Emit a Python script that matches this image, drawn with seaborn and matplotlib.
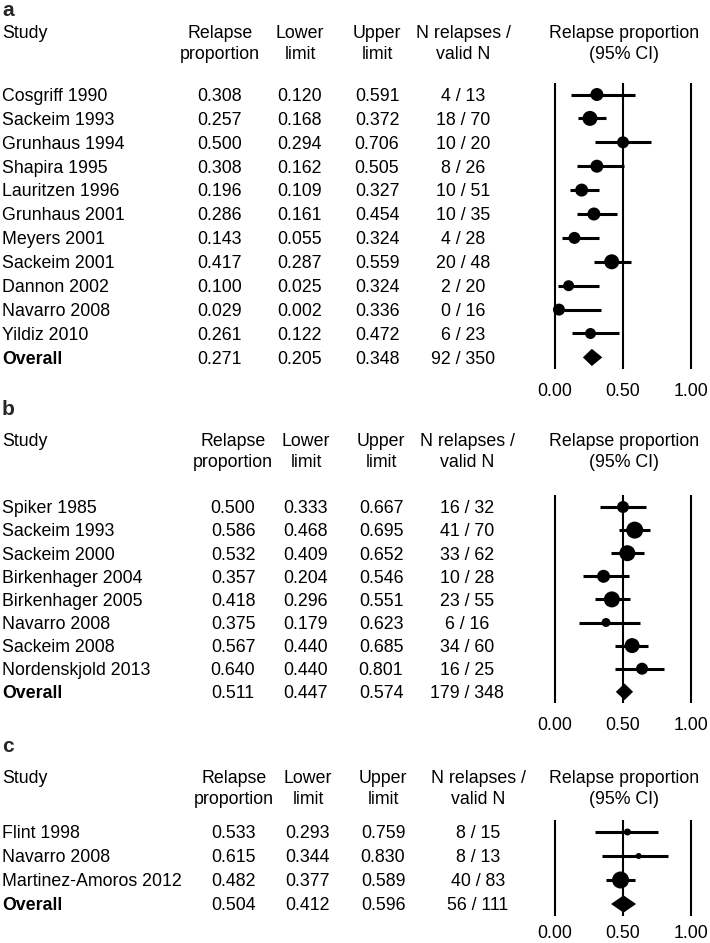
import matplotlib
matplotlib.use("Agg")
import matplotlib.pyplot as plt
import numpy as np
import pandas as pd
import seaborn as sns

# ---- data: panel a ----
a_study = ["Cosgriff 1990", "Sackeim 1993", "Grunhaus 1994", "Shapira 1995", "Lauritzen 1996",
           "Grunhaus 2001", "Meyers 2001", "Sackeim 2001", "Dannon 2002", "Navarro 2008", "Yildiz 2010"]
a_prop = [0.308, 0.257, 0.500, 0.308, 0.196, 0.286, 0.143, 0.417, 0.100, 0.029, 0.261]
a_low = [0.120, 0.168, 0.294, 0.162, 0.109, 0.161, 0.055, 0.287, 0.025, 0.002, 0.122]
a_up = [0.591, 0.372, 0.706, 0.505, 0.327, 0.454, 0.324, 0.559, 0.324, 0.336, 0.472]
a_events = [4, 18, 10, 8, 10, 10, 4, 20, 2, 0, 6]
a_total = [13, 70, 20, 26, 51, 35, 28, 48, 20, 16, 23]
a_overall = [0.271, 0.205, 0.348, 92, 350]
a_dot = [13, 15, 12, 13, 13, 13, 12, 15, 11, 12, 11]   # marker diameter (px), study weight

# ---- data: panel b ----
b_study = ["Spiker 1985", "Sackeim 1993", "Sackeim 2000", "Birkenhager 2004", "Birkenhager 2005",
           "Navarro 2008", "Sackeim 2008", "Nordenskjold 2013"]
b_prop = [0.500, 0.586, 0.532, 0.357, 0.418, 0.375, 0.567, 0.640]
b_low = [0.333, 0.468, 0.409, 0.204, 0.296, 0.179, 0.440, 0.440]
b_up = [0.667, 0.695, 0.652, 0.546, 0.551, 0.623, 0.685, 0.801]
b_events = [16, 41, 33, 10, 23, 6, 34, 16]
b_total = [32, 70, 62, 28, 55, 16, 60, 25]
b_overall = [0.511, 0.447, 0.574, 179, 348]
b_dot = [12, 17, 16, 13, 16, 9, 15, 12]

# ---- data: panel c ----
c_study = ["Flint 1998", "Navarro 2008", "Martinez-Amoros 2012"]
c_prop = [0.533, 0.615, 0.482]
c_low = [0.293, 0.344, 0.377]
c_up = [0.759, 0.830, 0.589]
c_events = [8, 8, 40]
c_total = [15, 13, 83]
c_overall = [0.504, 0.412, 0.596, 56, 111]
c_dot = [7, 6, 17]

tick_vals = [0.0, 0.5, 1.0]
tick_text = ["0.00", "0.50", "1.00"]

W, H = 710, 943
FS = 12.8
sns.set_theme(style="white")
plt.rcParams["font.family"] = ["Liberation Sans", "DejaVu Sans"]

fig = plt.figure(figsize=(W / 100, H / 100), dpi=100)
bg = fig.add_axes([0, 0, 1, 1])
bg.set_xlim(0, W)
bg.set_ylim(H, 0)
bg.axis("off")

X0, X1 = 555, 691          # pixel of 0.00 and 1.00
AX_L, AX_R = 540, 706


def txt(x, y, s, ha="center", bold=False, size=FS):
    # y is the visual centre of the digits / capitals
    bg.text(x, y + 0.36 * size * 100 / 72, s, ha=ha, va="baseline", fontsize=size,
            fontweight="bold" if bold else "normal", color="black")


def panel(letter, letter_y, head_y, row0, sp, cols, study, prop, low, up, ev, tot, overall, dot,
          pad=9.8):
    x_p, x_l, x_u, x_n = cols
    # header
    bg.text(2, letter_y, letter, ha="left", va="baseline", fontsize=15, fontweight="bold")
    txt(2, head_y, "Study", ha="left")
    txt(x_p, head_y, "Relapse"); txt(x_p, head_y + 21, "proportion")
    txt(x_l, head_y, "Lower"); txt(x_l, head_y + 21, "limit")
    txt(x_u, head_y, "Upper"); txt(x_u, head_y + 21, "limit")
    txt(x_n, head_y, "N relapses /"); txt(x_n, head_y + 21, "valid N")
    txt(624, head_y, "Relapse proportion"); txt(624, head_y + 21, "(95% CI)")

    df = pd.DataFrame({"study": study, "prop": prop, "low": low, "up": up,
                       "ev": ev, "tot": tot, "dot": dot})
    df["row"] = np.arange(len(df))
    n = len(df) + 1
    for i, r in df.iterrows():
        y = row0 + i * sp
        txt(2, y, r["study"], ha="left")
        txt(x_p, y, f"{r['prop']:.3f}")
        txt(x_l, y, f"{r['low']:.3f}")
        txt(x_u, y, f"{r['up']:.3f}")
        txt(x_n, y, f"{r['ev']} / {r['tot']}")
    yo = row0 + (n - 1) * sp
    txt(2, yo, "Overall", ha="left", bold=True)
    txt(x_p, yo, f"{overall[0]:.3f}")
    txt(x_l, yo, f"{overall[1]:.3f}")
    txt(x_u, yo, f"{overall[2]:.3f}")
    txt(x_n, yo, f"{overall[3]} / {overall[4]}")

    # forest axes
    top = row0 - sp / 2
    bot = row0 + (n - 0.5) * sp
    ax = fig.add_axes([AX_L / W, 1 - bot / H, (AX_R - AX_L) / W, (bot - top) / H])
    ax.set_xlim((AX_L - X0) / (X1 - X0), (AX_R - X0) / (X1 - X0))
    ax.set_ylim(n - 0.5, -0.5)
    ax.patch.set_alpha(0)
    for v in tick_vals:
        ax.axvline(v, color="black", lw=1.5, zorder=1)
    ax.hlines(df["row"], df["low"], df["up"], color="black", lw=2.2, zorder=2)
    sns.scatterplot(data=df, x="prop", y="row", ax=ax, color="black", marker="o",
                    s=(df["dot"] * 0.72) ** 2, linewidth=0, legend=False, zorder=3)
    est, lo, hi = overall[0], overall[1], overall[2]
    r = n - 1
    ax.fill([lo, est, hi, est], [r, r - 0.36, r, r + 0.36], color="black", lw=0, zorder=3)
    ax.set_xticks(tick_vals)
    ax.set_xticklabels(tick_text)
    ax.set_yticks([])
    ax.tick_params(axis="x", length=0, pad=pad, labelsize=FS, colors="black")
    ax.set_xlabel(""); ax.set_ylabel("")
    for s in ax.spines.values():
        s.set_visible(False)


panel("a", 16, 32, 94.5, 23.9, (220, 300, 377, 463), a_study, a_prop, a_low, a_up,
      a_events, a_total, a_overall, a_dot)
panel("b", 415, 440, 507, 23.1, (233, 306, 381, 467), b_study, b_prop, b_low, b_up,
      b_events, b_total, b_overall, b_dot)
panel("c", 752, 777, 832, 24.0, (234, 308, 383, 478), c_study, c_prop, c_low, c_up,
      c_events, c_total, c_overall, c_dot, pad=6.5)

fig.savefig("out.png", dpi=100)
